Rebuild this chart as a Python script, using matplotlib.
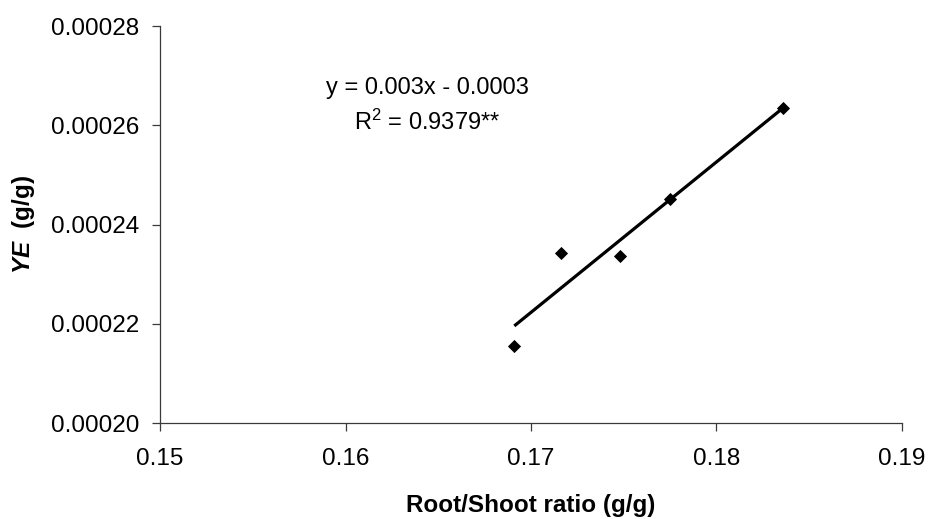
import numpy as np
import matplotlib
matplotlib.use("Agg")
import matplotlib.pyplot as plt
from matplotlib.ticker import FormatStrFormatter

plt.rcParams['font.family'] = ['Liberation Sans', 'DejaVu Sans']
plt.rcParams['mathtext.fontset'] = 'custom'
plt.rcParams['mathtext.rm'] = 'Liberation Sans'
plt.rcParams['mathtext.it'] = 'Liberation Sans:italic'
plt.rcParams['mathtext.bf'] = 'Liberation Sans:bold'
plt.rcParams['mathtext.bfit'] = 'Liberation Sans:bold:italic'

# Root/shoot ratio vs. yield efficiency
root_shoot = [0.1691, 0.1716, 0.1748, 0.1775, 0.1836]
ye = [0.0002156, 0.0002342, 0.0002337, 0.0002451, 0.0002635]

x_ticks = [0.15, 0.16, 0.17, 0.18, 0.19]
y_ticks = [0.00020, 0.00022, 0.00024, 0.00026, 0.00028]

eq_text = "y = 0.003x - 0.0003"
r2_text = r"R$^2$ = 0.9379**"

fig = plt.figure(figsize=(9.29, 5.19), dpi=100)
ax = fig.add_axes([160 / 929, 96 / 519, 742 / 929, 397 / 519])

x = np.array(root_shoot)
y = np.array(ye)
slope, intercept = np.polyfit(x, y, 1)
xl = np.array([x.min(), x.max()])
ax.plot(xl, slope * xl + intercept, color='black', lw=2.3, solid_capstyle='butt', zorder=2)
ax.plot(x, y, linestyle='none', marker='D', markersize=6.4, color='black',
        markeredgewidth=0.6, zorder=3)

ax.set_xlim(x_ticks[0], x_ticks[-1])
ax.set_ylim(y_ticks[0], y_ticks[-1])
ax.set_xticks(x_ticks)
ax.set_yticks(y_ticks)
ax.xaxis.set_major_formatter(FormatStrFormatter('%.2f'))
ax.yaxis.set_major_formatter(FormatStrFormatter('%.5f'))

for side in ('top', 'right'):
    ax.spines[side].set_visible(False)
for side in ('left', 'bottom'):
    ax.spines[side].set_color('#3a3a3a')
    ax.spines[side].set_linewidth(0.9)

ax.tick_params(axis='both', direction='out', length=6, width=0.9, color='#3a3a3a',
               labelsize=17.5, labelcolor='black')
ax.tick_params(axis='x', pad=12)
ax.tick_params(axis='y', pad=9)

ax.set_xlabel("Root/Shoot ratio (g/g)", fontsize=17.5, fontweight='bold', labelpad=17)
ax.set_ylabel(r"$\mathbfit{YE}$  (g/g)", fontsize=17.5, fontweight='bold', labelpad=10)

ax.text(0.1644, 0.0002675, eq_text, fontsize=17, ha='center', va='center')
ax.text(0.1644, 0.0002605, r2_text, fontsize=17, ha='center', va='center')

fig.savefig("out.png", dpi=100)
